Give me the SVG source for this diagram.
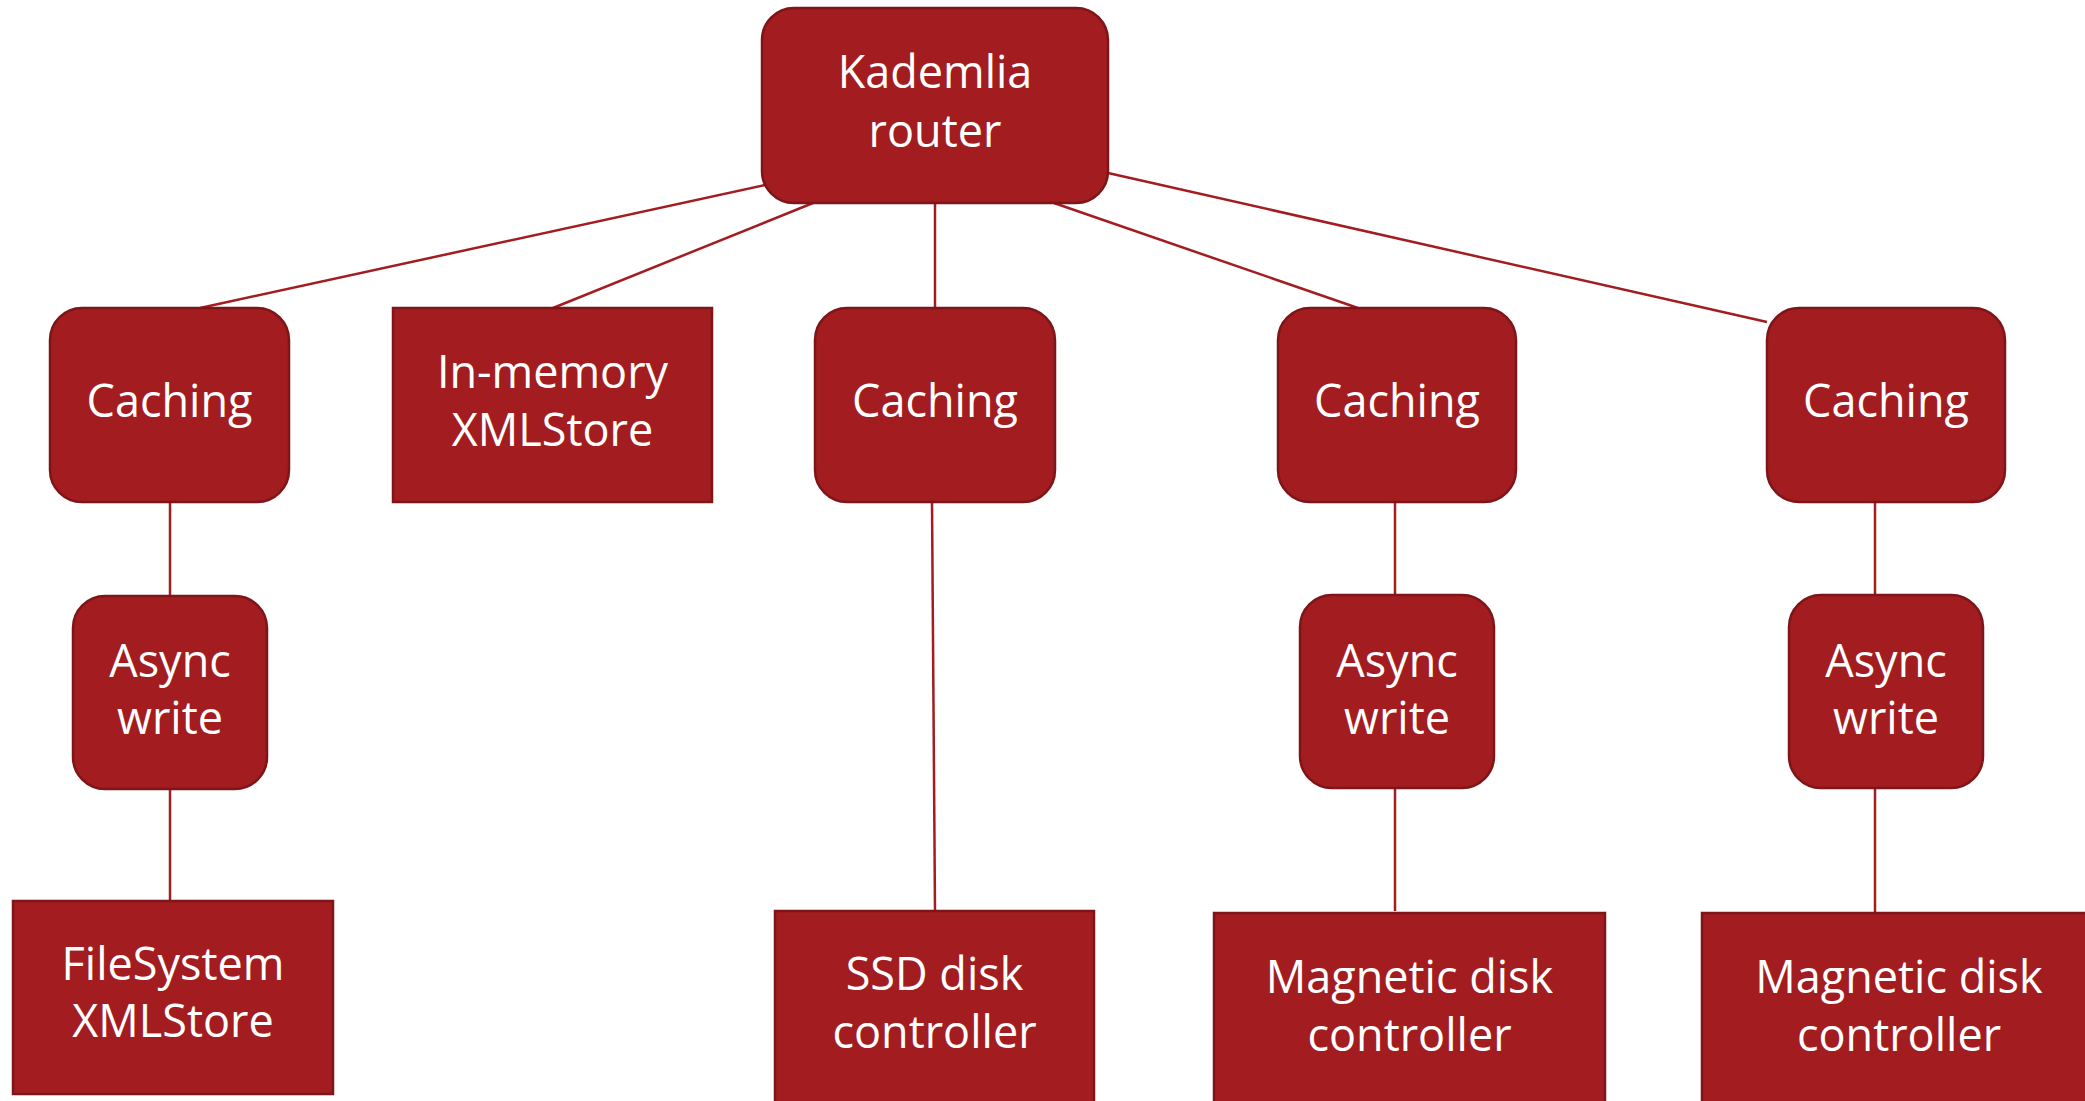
<svg xmlns="http://www.w3.org/2000/svg" width="2085" height="1101" viewBox="0 0 2085 1101">
  <style>
    .node { fill: #A21C20; stroke: #7E1518; stroke-width: 2.5; }
    .lbl { fill: #FFFFFF; font-family: "Open Sans", "Noto Sans", "DejaVu Sans", sans-serif; font-size: 45px; text-anchor: middle; }
    .link { stroke: #A21C20; stroke-width: 2.5; fill: none; }
  </style>
  <rect width="2085" height="1101" fill="#FFFFFF"/>

  <g id="connectors">
    <line class="link" x1="765" y1="185" x2="200" y2="308"/>
    <line class="link" x1="813" y1="203" x2="553" y2="308"/>
    <line class="link" x1="935" y1="203" x2="935" y2="308"/>
    <line class="link" x1="1054" y1="203" x2="1358" y2="308"/>
    <line class="link" x1="1108" y1="173" x2="1767" y2="322"/>
    <line class="link" x1="170" y1="502" x2="170" y2="596"/>
    <line class="link" x1="170" y1="789" x2="170" y2="901"/>
    <line class="link" x1="932" y1="502" x2="935" y2="911"/>
    <line class="link" x1="1395" y1="502" x2="1395" y2="595"/>
    <line class="link" x1="1395" y1="788" x2="1395" y2="911"/>
    <line class="link" x1="1875" y1="502" x2="1875" y2="595"/>
    <line class="link" x1="1875" y1="788" x2="1875" y2="913"/>
  </g>

  <g id="kademlia-router">
    <rect class="node" x="762" y="8" width="346" height="195" rx="32"/>
    <text class="lbl" x="935" y="88">Kademlia</text>
    <text class="lbl" x="935" y="147">router</text>
  </g>

  <g id="caching-1">
    <rect class="node" x="50" y="308" width="239" height="194" rx="32"/>
    <text class="lbl" x="169.5" y="417">Caching</text>
  </g>

  <g id="in-memory-xmlstore">
    <rect class="node" x="393" y="308" width="319" height="194"/>
    <text class="lbl" x="552.5" y="388">In-memory</text>
    <text class="lbl" x="552.5" y="446">XMLStore</text>
  </g>

  <g id="caching-2">
    <rect class="node" x="815" y="308" width="240" height="194" rx="32"/>
    <text class="lbl" x="935" y="417">Caching</text>
  </g>

  <g id="caching-3">
    <rect class="node" x="1278" y="308" width="238" height="194" rx="32"/>
    <text class="lbl" x="1397" y="417">Caching</text>
  </g>

  <g id="caching-4">
    <rect class="node" x="1767" y="308" width="238" height="194" rx="32"/>
    <text class="lbl" x="1886" y="417">Caching</text>
  </g>

  <g id="async-write-1">
    <rect class="node" x="73" y="596" width="194" height="193" rx="32"/>
    <text class="lbl" x="170" y="677">Async</text>
    <text class="lbl" x="170" y="734">write</text>
  </g>

  <g id="async-write-2">
    <rect class="node" x="1300" y="595" width="194" height="193" rx="32"/>
    <text class="lbl" x="1397" y="677">Async</text>
    <text class="lbl" x="1397" y="734">write</text>
  </g>

  <g id="async-write-3">
    <rect class="node" x="1789" y="595" width="194" height="193" rx="32"/>
    <text class="lbl" x="1886" y="677">Async</text>
    <text class="lbl" x="1886" y="734">write</text>
  </g>

  <g id="filesystem-xmlstore">
    <rect class="node" x="13" y="901" width="320" height="193"/>
    <text class="lbl" x="173" y="980">FileSystem</text>
    <text class="lbl" x="173" y="1037">XMLStore</text>
  </g>

  <g id="ssd-disk-controller">
    <rect class="node" x="775" y="911" width="319" height="200"/>
    <text class="lbl" x="934.5" y="990">SSD disk</text>
    <text class="lbl" x="934.5" y="1048">controller</text>
  </g>

  <g id="magnetic-disk-controller-1">
    <rect class="node" x="1214" y="913" width="391" height="200"/>
    <text class="lbl" x="1409.5" y="993">Magnetic disk</text>
    <text class="lbl" x="1409.5" y="1051">controller</text>
  </g>

  <g id="magnetic-disk-controller-2">
    <rect class="node" x="1702" y="913" width="400" height="200"/>
    <text class="lbl" x="1899" y="993">Magnetic disk</text>
    <text class="lbl" x="1899" y="1051">controller</text>
  </g>
</svg>
